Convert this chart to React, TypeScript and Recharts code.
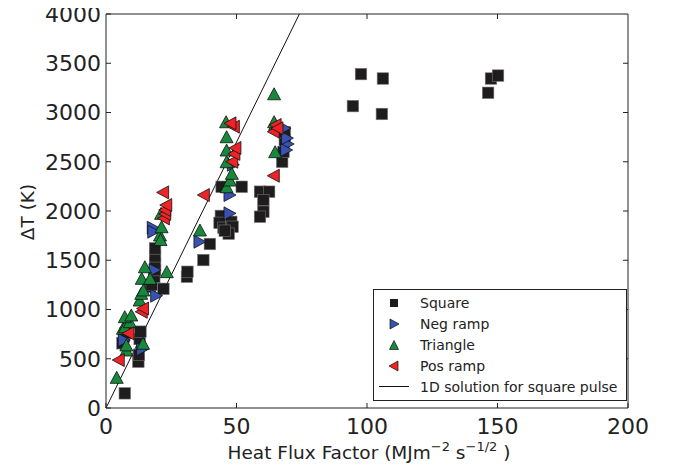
import React from 'react';
import { ScatterChart, Scatter, XAxis, YAxis, ReferenceLine, Label } from 'recharts';

// ---- Data ----
const squareX = [7.2, 12.4, 12.6, 6.3, 6.9, 7.5, 12.9, 13.2, 16.9, 17.5, 18.5, 18.8, 18.8, 18.8, 18.8, 22.0, 31.0, 31.2, 37.3, 39.8, 44.0, 43.5, 45.0, 48.0, 48.5, 47.0, 45.5, 44.3, 52.0, 59.0, 62.5, 60.3, 60.3, 59.0, 67.5, 68.0, 68.5, 68.5, 94.6, 97.7, 105.7, 106.1, 146.4, 147.5, 150.2];
const squareY = [149, 470, 540, 657, 724, 760, 700, 775, 1231, 1250, 1330, 1400, 1470, 1540, 1620, 1210, 1333, 1383, 1502, 1665, 1950, 1880, 1830, 1890, 1840, 1770, 1800, 2246, 2246, 2196, 2196, 2111, 1993, 1942, 2500, 2600, 2720, 2800, 3065, 3390, 2985, 3345, 3200, 3345, 3375];

const negRampX = [7.0, 14.0, 19.4, 18.8, 18.1, 18.3, 36.0, 47.5, 47.5, 48.8, 68.6, 69.8, 69.2, 69.5];
const negRampY = [690, 596, 1140, 1400, 1830, 1790, 1688, 1976, 2162, 2470, 2839, 2680, 2619, 2740];

const triangleX = [4.1, 7.8, 7.8, 14.2, 6.5, 7.3, 9.1, 7.2, 9.7, 12.9, 13.5, 14.3, 13.7, 16.9, 14.9, 23.3, 20.7, 20.9, 21.3, 21.1, 36.0, 46.2, 47.5, 48.2, 46.2, 46.2, 46.2, 46.0, 64.8, 64.8, 64.4, 64.4];
const triangleY = [311, 589, 640, 657, 809, 825, 876, 927, 944, 1096, 1164, 1198, 1316, 1316, 1434, 1384, 1756, 1710, 1840, 1976, 1807, 2246, 2314, 2382, 2500, 2619, 2754, 2906, 2602, 2880, 2906, 3190];

const posRampX = [4.7, 8.4, 13.5, 14.0, 22.0, 22.5, 22.5, 22.9, 21.7, 37.3, 48.2, 49.0, 49.4, 48.8, 47.5, 64.1, 64.1, 64.8, 65.5];
const posRampY = [487, 758, 977, 1010, 1925, 1970, 2010, 2060, 2189, 2162, 2500, 2580, 2640, 2856, 2890, 2358, 2805, 2873, 2840];

const solutionX = [0, 74.1];
const solutionY = [0, 4000];

const xTicks = [0, 50, 100, 150, 200];
const yTicks = [0, 500, 1000, 1500, 2000, 2500, 3000, 3500, 4000];

const seriesNames = ['Square', 'Neg ramp', 'Triangle', 'Pos ramp', '1D solution for square pulse'];

const zip = (xs: number[], ys: number[]) => xs.map((x, i) => ({ x, y: ys[i] }));

const squareData = zip(squareX, squareY);
const negData = zip(negRampX, negRampY);
const triData = zip(triangleX, triangleY);
const posData = zip(posRampX, posRampY);

const FONT = '"DejaVu Sans", Verdana, sans-serif';
const TEXT = '#222';
const FRAME = '#222';
const BLACK_FILL = '#1e1c1d';
const BLUE = '#3752b0';
const GREEN = '#17883c';
const RED = '#ee2327';

const X_MAX = xTicks[xTicks.length - 1];
const Y_MAX = yTicks[yTicks.length - 1];
// inner tick length (~5px) expressed in data units for the mirrored top/right ticks
const TICK_DX = (X_MAX / 522) * 5;
const TICK_DY = (Y_MAX / 394) * 5;

// ---- Marker shapes ----
const SquareShape = (p: any) => {
  const s = 11.5;
  return <rect x={p.cx - s / 2} y={p.cy - s / 2} width={s} height={s} fill={BLACK_FILL} stroke="#777" strokeWidth={0.6} />;
};
const RightTri = (p: any) => {
  const { cx, cy } = p;
  const w = 6, h = 6.5;
  return <polygon points={`${cx + w},${cy} ${cx - w},${cy - h} ${cx - w},${cy + h}`} fill={BLUE} stroke="#111" strokeWidth={0.8} />;
};
const UpTri = (p: any) => {
  const { cx, cy } = p;
  const w = 6.5, h = 6;
  return <polygon points={`${cx},${cy - h} ${cx - w},${cy + h} ${cx + w},${cy + h}`} fill={GREEN} stroke="#111" strokeWidth={0.8} />;
};
const LeftTri = (p: any) => {
  const { cx, cy } = p;
  const w = 6, h = 6.5;
  return <polygon points={`${cx - w},${cy} ${cx + w},${cy - h} ${cx + w},${cy + h}`} fill={RED} stroke="#111" strokeWidth={0.8} />;
};

const XLabelContent = (props: any) => {
  const vb = props.viewBox || {};
  const cx = vb.x + vb.width / 2 + 2;
  const y = vb.y + 51;
  return (
    <text x={cx} y={y} textAnchor="middle" fontFamily={FONT} fontSize={18.5} fill={TEXT}>
      Heat Flux Factor (MJm
      <tspan dy={-8} fontSize={13}>−2</tspan>
      <tspan dy={8}> s</tspan>
      <tspan dy={-8} fontSize={13}>−1/2</tspan>
      <tspan dy={8}> )</tspan>
    </text>
  );
};

const YLabelContent = (props: any) => {
  const vb = props.viewBox || {};
  const x = vb.x + 27;
  const y = vb.y + vb.height / 2 + 1;
  return (
    <text x={x} y={y} textAnchor="middle" dominantBaseline="central" transform={`rotate(-90, ${x}, ${y})`} fontFamily={FONT} fontSize={18.5} fill={TEXT}>
      ΔT (K)
    </text>
  );
};

const legendMarkers = [
  <svg width="14" height="14" key="s"><rect x="3" y="3" width="8" height="8" fill={BLACK_FILL} /></svg>,
  <svg width="14" height="14" key="n"><polygon points="12,7 3,2 3,12" fill={BLUE} stroke="#111" strokeWidth="0.7" /></svg>,
  <svg width="14" height="14" key="t"><polygon points="7,2.5 2.5,11.5 11.5,11.5" fill={GREEN} stroke="#111" strokeWidth="0.7" /></svg>,
  <svg width="14" height="14" key="p"><polygon points="2,7 11,2 11,12" fill={RED} stroke="#111" strokeWidth="0.7" /></svg>,
];

const LegendBox = () => (
  <div
    style={{
      position: 'absolute',
      left: 373,
      top: 289,
      width: 252,
      height: 110,
      border: '1px solid #222',
      background: '#fff',
      fontFamily: FONT,
      fontSize: 14,
      color: TEXT,
      boxSizing: 'content-box',
    }}
  >
    {seriesNames.map((name, i) => (
      <div key={name} style={{ position: 'absolute', top: 2 + i * 21.1, left: 0, height: 21, width: '100%', display: 'flex', alignItems: 'center' }}>
        <div style={{ width: 40, display: 'flex', justifyContent: 'center', alignItems: 'center' }}>
          {i < 4 ? legendMarkers[i] : <div style={{ width: 30, height: 1, background: '#111' }} />}
        </div>
        <span style={{ marginLeft: 6, whiteSpace: 'nowrap' }}>{name}</span>
      </div>
    ))}
  </div>
);

export default function App() {
  const axisLine = { stroke: FRAME, strokeWidth: 1 };
  const tickLine = { stroke: FRAME, strokeWidth: 1 };
  return (
    <div style={{ position: 'relative', width: 673, height: 470, margin: '-8px 0 0 -8px' }}>
      <ScatterChart width={673} height={470} margin={{ top: 14, right: 45, bottom: 0, left: 0 }}>
        <XAxis
          type="number"
          dataKey="x"
          domain={[0, X_MAX]}
          ticks={xTicks}
          allowDataOverflow
          height={62}
          axisLine={axisLine}
          tickLine={tickLine}
          tickSize={-5}
          tickMargin={15}
          tick={{ fontFamily: FONT, fontSize: 22, fill: TEXT }}
          interval={0}
        >
          <Label content={XLabelContent} />
        </XAxis>
        <YAxis
          type="number"
          dataKey="y"
          domain={[0, Y_MAX]}
          ticks={yTicks}
          allowDataOverflow
          width={106}
          axisLine={axisLine}
          tickLine={tickLine}
          tickSize={-5}
          tickMargin={10}
          tick={{ fontFamily: FONT, fontSize: 22, fill: TEXT }}
          interval={0}
        >
          <Label content={YLabelContent} />
        </YAxis>
        {/* top and right frame */}
        <ReferenceLine y={Y_MAX} stroke={FRAME} strokeWidth={1} ifOverflow="visible" />
        <ReferenceLine x={X_MAX} stroke={FRAME} strokeWidth={1} ifOverflow="visible" />
        {xTicks.slice(1, -1).map((t) => (
          <ReferenceLine key={'tx' + t} segment={[{ x: t, y: Y_MAX }, { x: t, y: Y_MAX - TICK_DY }]} stroke={FRAME} strokeWidth={1} ifOverflow="visible" />
        ))}
        {yTicks.slice(1, -1).map((t) => (
          <ReferenceLine key={'ty' + t} segment={[{ x: X_MAX, y: t }, { x: X_MAX - TICK_DX, y: t }]} stroke={FRAME} strokeWidth={1} ifOverflow="visible" />
        ))}
        <Scatter name={seriesNames[0]} data={squareData} shape={SquareShape} isAnimationActive={false} />
        <Scatter name={seriesNames[1]} data={negData} shape={RightTri} isAnimationActive={false} />
        <Scatter name={seriesNames[2]} data={triData} shape={UpTri} isAnimationActive={false} />
        <Scatter name={seriesNames[3]} data={posData} shape={LeftTri} isAnimationActive={false} />
        <ReferenceLine
          segment={[
            { x: solutionX[0], y: solutionY[0] },
            { x: solutionX[1], y: solutionY[1] },
          ]}
          stroke="#111"
          strokeWidth={1}
          ifOverflow="visible"
        />
      </ScatterChart>
      <LegendBox />
    </div>
  );
}
